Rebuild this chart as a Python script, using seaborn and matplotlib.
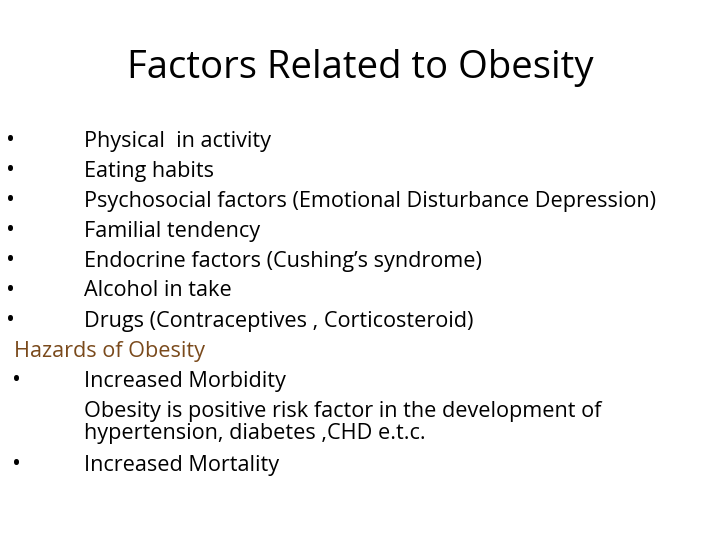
import matplotlib
matplotlib.use("Agg")
import matplotlib.pyplot as plt
import seaborn as sns

sns.set_theme(style="white")
plt.rcParams['font.family'] = ['Open Sans', 'DejaVu Sans']

title = "Factors Related to Obesity"
factors = ["Physical  in activity", "Eating habits",
           "Psychosocial factors (Emotional Disturbance Depression)",
           "Familial tendency", "Endocrine factors (Cushing’s syndrome)",
           "Alcohol in take", "Drugs (Contraceptives , Corticosteroid)"]
hazards_heading = "Hazards of Obesity"
hazards = ["Increased Morbidity", "Increased Mortality"]
morbidity_note = ["Obesity is positive risk factor in the development of",
                  "hypertension, diabetes ,CHD e.t.c."]

W, H = 720, 540
fig = plt.figure(figsize=(7.2, 5.4), dpi=100)
fig.patch.set_facecolor("white")

def put(x, y, s, size=15.6, color="black"):
    fig.text(x / W, 1 - y / H, s, fontsize=size, color=color, va="center", ha="left")

fig.text(360 / W, 1 - 68 / H, title, fontsize=27.5, ha="center", va="center", color="black")

y = 141
for f in factors:
    put(6, y, "•", size=17)
    put(84, y, f)
    y += 30
put(14, 351, hazards_heading, color="#7a4a1c")
put(12, 381, "•", size=17)
put(84, 381, hazards[0])
put(84, 411, morbidity_note[0])
put(84, 434, morbidity_note[1])
put(12, 465, "•", size=17)
put(84, 465, hazards[1])

fig.savefig("out.png", dpi=100, facecolor="white")
